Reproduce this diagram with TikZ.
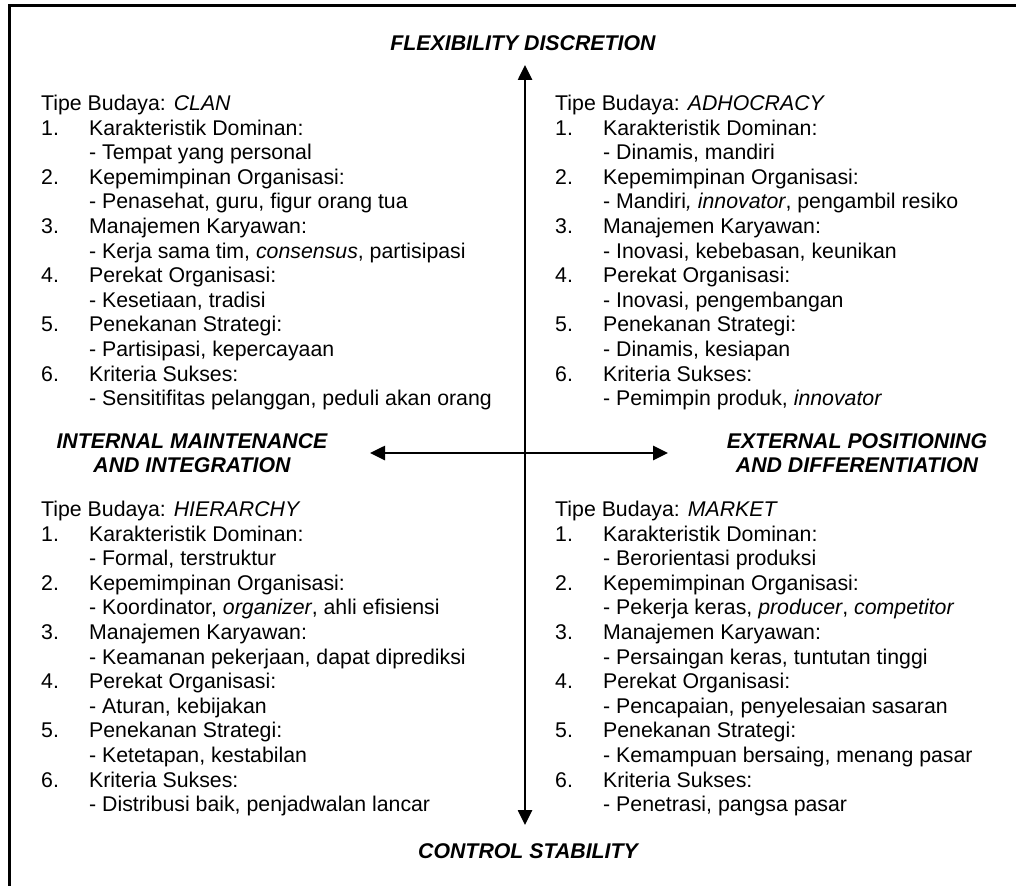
\documentclass[tikz,border=0pt]{standalone}
\usepackage{fontspec}
\setmainfont{Liberation Sans}
\usetikzlibrary{arrows.meta}
\newcommand\qitem[2]{\makebox[48pt][l]{#1}#2}
\newcommand\qsub[1]{\hspace*{48pt}#1}
\begin{document}
\begin{tikzpicture}[x=1pt,y=-1pt,
  body/.style={inner sep=0pt, anchor=base west, font=\fontsize{21.3}{24.6}\selectfont},
  axislabel/.style={inner sep=0pt, align=center, font=\fontsize{21.3}{24.6}\selectfont\bfseries\itshape},
  axis/.style={line width=2.6pt, {Triangle[length=15pt,width=14pt]}-{Triangle[length=15pt,width=14pt]}},
  frameline/.style={line width=2.6pt}]
\useasboundingbox (0,0) rectangle (1016,885);
\clip (0,0) rectangle (1016,885);
\draw[frameline] (9.5,900) -- (9.5,5.3) -- (1030,5.3);

\coordinate (vtop) at (525,65);
\coordinate (vbot) at (525,825);
\coordinate (hl) at (370,453);
\coordinate (hr) at (668,453);
\draw[axis] (vtop) -- (vbot);
\draw[axis] (hl) -- (hr);

\node[axislabel] (flex) at (523,43) {FLEXIBILITY DISCRETION};
\node[axislabel] (ctrl) at (528,851) {CONTROL STABILITY};
\node[axislabel] (intl) at (192,453) {INTERNAL MAINTENANCE\\AND INTEGRATION};
\node[axislabel] (extl) at (857,453) {EXTERNAL POSITIONING\\AND DIFFERENTIATION};

\node[body] (clan) at (41,110.5) {\begin{tabular}[t]{@{}l@{}}
Tipe Budaya: \textit{CLAN}\\
\qitem{1.}{Karakteristik Dominan:}\\
\qsub{- Tempat yang personal}\\
\qitem{2.}{Kepemimpinan Organisasi:}\\
\qsub{- Penasehat, guru, figur orang tua}\\
\qitem{3.}{Manajemen Karyawan:}\\
\qsub{- Kerja sama tim, \textit{consensus}, partisipasi}\\
\qitem{4.}{Perekat Organisasi:}\\
\qsub{- Kesetiaan, tradisi}\\
\qitem{5.}{Penekanan Strategi:}\\
\qsub{- Partisipasi, kepercayaan}\\
\qitem{6.}{Kriteria Sukses:}\\
\qsub{- Sensitifitas pelanggan, peduli akan orang}
\end{tabular}};

\node[body] (adhoc) at (555,110.5) {\begin{tabular}[t]{@{}l@{}}
Tipe Budaya: \textit{ADHOCRACY}\\
\qitem{1.}{Karakteristik Dominan:}\\
\qsub{- Dinamis, mandiri}\\
\qitem{2.}{Kepemimpinan Organisasi:}\\
\qsub{- Mandiri\textit{, innovator}, pengambil resiko}\\
\qitem{3.}{Manajemen Karyawan:}\\
\qsub{- Inovasi, kebebasan, keunikan}\\
\qitem{4.}{Perekat Organisasi:}\\
\qsub{- Inovasi, pengembangan}\\
\qitem{5.}{Penekanan Strategi:}\\
\qsub{- Dinamis, kesiapan}\\
\qitem{6.}{Kriteria Sukses:}\\
\qsub{- Pemimpin produk, \textit{innovator}}
\end{tabular}};

\node[body] (hier) at (41,516.5) {\begin{tabular}[t]{@{}l@{}}
Tipe Budaya: \textit{HIERARCHY}\\
\qitem{1.}{Karakteristik Dominan:}\\
\qsub{- Formal, terstruktur}\\
\qitem{2.}{Kepemimpinan Organisasi:}\\
\qsub{- Koordinator, \textit{organizer}, ahli efisiensi}\\
\qitem{3.}{Manajemen Karyawan:}\\
\qsub{- Keamanan pekerjaan, dapat diprediksi}\\
\qitem{4.}{Perekat Organisasi:}\\
\qsub{- Aturan, kebijakan}\\
\qitem{5.}{Penekanan Strategi:}\\
\qsub{- Ketetapan, kestabilan}\\
\qitem{6.}{Kriteria Sukses:}\\
\qsub{- Distribusi baik, penjadwalan lancar}
\end{tabular}};

\node[body] (market) at (555,516.5) {\begin{tabular}[t]{@{}l@{}}
Tipe Budaya: \textit{MARKET}\\
\qitem{1.}{Karakteristik Dominan:}\\
\qsub{- Berorientasi produksi}\\
\qitem{2.}{Kepemimpinan Organisasi:}\\
\qsub{- Pekerja keras, \textit{producer}, \textit{competitor}}\\
\qitem{3.}{Manajemen Karyawan:}\\
\qsub{- Persaingan keras, tuntutan tinggi}\\
\qitem{4.}{Perekat Organisasi:}\\
\qsub{- Pencapaian, penyelesaian sasaran}\\
\qitem{5.}{Penekanan Strategi:}\\
\qsub{- Kemampuan bersaing, menang pasar}\\
\qitem{6.}{Kriteria Sukses:}\\
\qsub{- Penetrasi, pangsa pasar}
\end{tabular}};
\end{tikzpicture}
\end{document}
